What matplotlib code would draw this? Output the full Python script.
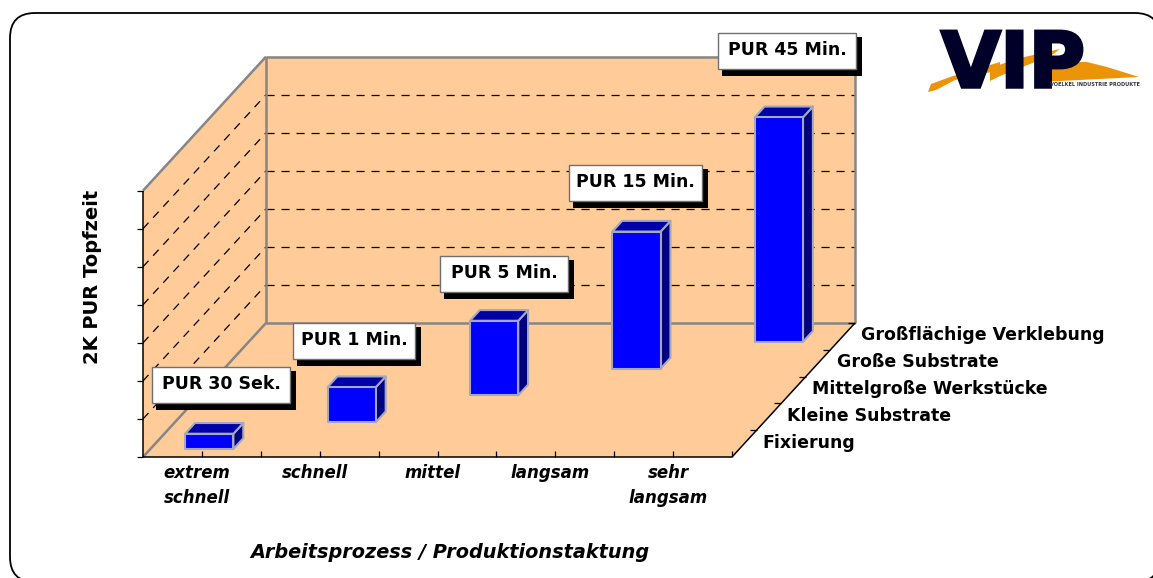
#!/usr/bin/env python3
"""2K PUR Topfzeit - pseudo 3D column chart with the VIP logo"""

import matplotlib
matplotlib.use('Agg')
import matplotlib.pyplot as plt
import matplotlib.patheffects as pe
from matplotlib.patches import FancyBboxPatch, Polygon, Rectangle

# data
categories = ["extrem\nschnell", "schnell", "mittel", "langsam", "sehr\nlangsam"]
depth_labels = ["Fixierung", "Kleine Substrate", "Mittelgroße Werkstücke",
                "Große Substrate", "Großflächige Verklebung"]
bar_values = [0.4, 0.92, 1.96, 3.6, 5.9]
bar_labels = ["PUR 30 Sek.", "PUR 1 Min.", "PUR 5 Min.", "PUR 15 Min.", "PUR 45 Min."]
z_max = 7

# oblique projection, result is in picture pixels
X0, Y0 = 143.0, 457.0
UNIT_X = 117.8
UNIT_Z = 38.05
DEPTH_X, DEPTH_Y = 24.6, 26.8

FONT = 'DejaVu Sans'
PEACH = '#FFCC99'
GREY = '#868686'
BAR_EDGE = '#A3A8BE'


def proj(x, d, z=0):
    """x in categories, d in depth rows, z in value units"""
    return (X0 + UNIT_X * x + DEPTH_X * d, Y0 - UNIT_Z * z - DEPTH_Y * d)


def line(ax, a, b, **kw):
    ax.plot([a[0], b[0]], [a[1], b[1]], solid_capstyle='butt', **kw)


fig = plt.figure(figsize=(11.53, 5.78), dpi=100, facecolor='white')
ax = fig.add_axes([0, 0, 1, 1])
ax.set_xlim(0, 1153)
ax.set_ylim(578, 0)
ax.set_axis_off()

# outer frame
ax.add_patch(FancyBboxPatch((35, 38), 1100, 519, boxstyle='round,pad=25,rounding_size=25',
                            facecolor='white', edgecolor='black', linewidth=1.3, zorder=1))

n = len(categories)
m = len(depth_labels)

# walls and floor
ax.add_patch(Polygon([proj(0, 0), proj(0, 0, z_max), proj(0, m, z_max), proj(n, m, z_max),
                      proj(n, m), proj(n, 0)], closed=True, facecolor=PEACH, edgecolor='none', zorder=2))

# grid
for z in range(1, z_max):
    line(ax, proj(0, m, z), proj(n, m, z), color='black', lw=0.9, ls=(0, (6.5, 5.5)), zorder=3)
    line(ax, proj(0, 0, z), proj(0, m, z), color='black', lw=0.9, ls=(0, (6.5, 5.5)), zorder=3)

# wall outlines
for a, b in [(proj(0, 0, z_max), proj(0, m, z_max)), (proj(0, m, z_max), proj(n, m, z_max)),
             (proj(n, m, z_max), proj(n, m)), (proj(0, m), proj(n, m)),
             (proj(0, m), proj(0, m, z_max)), (proj(0, 0), proj(0, m))]:
    line(ax, a, b, color=GREY, lw=1.8, zorder=4)

# axes with their ticks
line(ax, proj(0, 0), proj(0, 0, z_max), color='black', lw=1.1, zorder=5)
line(ax, proj(0, 0), proj(n, 0), color='black', lw=1.1, zorder=5)
line(ax, proj(n, 0), proj(n, m), color='black', lw=1.1, zorder=5)
for z in range(z_max + 1):
    px, py = proj(0, 0, z)
    line(ax, (px - 6, py), (px, py), color='black', lw=0.9, zorder=5)
for i in range(1, 2 * n + 1):
    px, py = proj(i / 2, 0)
    line(ax, (px, py - 6), (px, py), color='black', lw=0.9, zorder=5)
for d in range(1, m + 1):
    px, py = proj(n, d)
    line(ax, (px - 7, py), (px, py), color='black', lw=0.9, zorder=5)

# columns
BAR_W = 0.205
BAR_D = 0.2
for i, val in enumerate(bar_values):
    xl, xr = i + 0.5 - BAR_W, i + 0.5 + BAR_W
    df, db = i + 0.5 - BAR_D, i + 0.5 + BAR_D
    side = [proj(xr, df), proj(xr, db), proj(xr, db, val), proj(xr, df, val)]
    top = [proj(xl, df, val), proj(xr, df, val), proj(xr, db, val), proj(xl, db, val)]
    front = [proj(xl, df), proj(xr, df), proj(xr, df, val), proj(xl, df, val)]
    ax.add_patch(Polygon(side, facecolor='#000080', edgecolor=BAR_EDGE, lw=1.5, zorder=6, joinstyle='round'))
    ax.add_patch(Polygon(top, facecolor='#0000A8', edgecolor=BAR_EDGE, lw=1.5, zorder=6, joinstyle='round'))
    ax.add_patch(Polygon(front, facecolor='#0000FF', edgecolor=BAR_EDGE, lw=1.5, zorder=7, joinstyle='round'))

# label boxes: left, top, right, bottom in pixels
boxes = [(152, 367, 290, 403), (293, 323, 415, 359), (440, 256, 568, 292),
         (569, 165, 702, 201), (718, 33, 856, 69)]
for txt, (l, t, r, b) in zip(bar_labels, boxes):
    ax.add_patch(Rectangle((l + 4, t + 4), r - l + 2, b - t + 2.5, facecolor='black', edgecolor='none', zorder=8))
    ax.add_patch(Rectangle((l, t), r - l, b - t, facecolor='white', edgecolor='#707070', lw=1.0, zorder=9))
    ax.text((l + r) / 2, (t + b) / 2 - 1, txt, ha='center', va='center', family=FONT,
            fontweight='bold', fontsize=12.5, color='black', zorder=10)

# category labels
for i, txt in enumerate(categories):
    px, _ = proj(i + 0.5, 0)
    ax.text(px - 5, 464, txt, ha='center', va='top', family=FONT, fontweight='bold',
            fontstyle='italic', fontsize=12, linespacing=1.5, color='black', zorder=5)

# depth labels, next to the depth axis
for d, txt in enumerate(depth_labels):
    px, py = proj(n, d + 0.5)
    ax.text(px + 18.5, py - 1, txt, ha='left', va='center', family=FONT, fontweight='bold',
            fontsize=12.5, color='black', zorder=5)

# axis titles
ax.text(92, 277, "2K PUR Topfzeit", rotation=90, ha='center', va='center', family=FONT,
        fontweight='bold', fontsize=14, color='black')
ax.text(450, 552, "Arbeitsprozess / Produktionstaktung", ha='center', va='center', family=FONT,
        fontweight='bold', fontstyle='italic', fontsize=13.9, color='black')

# logo: swoosh strokes behind the letters
swoosh_left = [(928, 92), (931, 84), (953, 76), (1000, 62), (1000, 70), (955, 80), (936, 90)]
swoosh_mid = [(990, 68), (1020, 58), (1060, 49), (1052, 55), (1030, 64), (1000, 76), (990, 81)]
swoosh_right = [(1040, 62), (1087, 62), (1107, 67), (1139, 77), (1040, 82)]
for pts in (swoosh_left, swoosh_mid, swoosh_right):
    ax.add_patch(Polygon(pts, facecolor='#EC9408', edgecolor='none', zorder=2))
ax.text(1013, 66, "VIP", ha='center', va='center', family=FONT, fontweight='bold',
        fontsize=55, color='#000028', zorder=3,
        path_effects=[pe.withStroke(linewidth=2.5, foreground='#000028', joinstyle='miter')])
ax.text(1095, 84.5, "VOELKEL INDUSTRIE PRODUKTE", ha='center', va='center', family=FONT,
        fontweight='bold', fontsize=3.6, color='#333344', zorder=4)

fig.savefig('out.png', dpi=100)
